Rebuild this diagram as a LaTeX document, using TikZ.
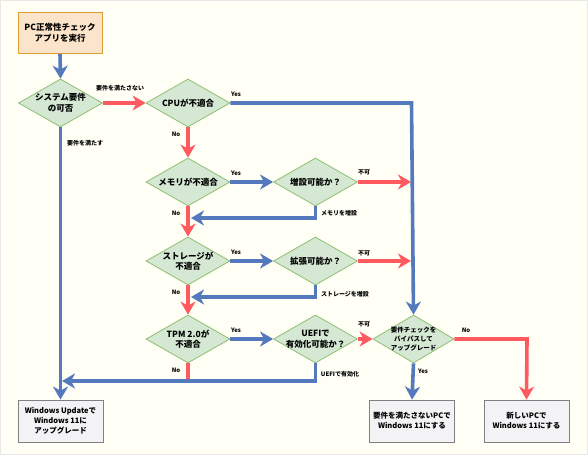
\documentclass[tikz,border=0pt]{standalone}
\usepackage{fontspec}
\setmainfont{Noto Sans CJK JP}
\usetikzlibrary{shapes.geometric,arrows.meta}
\definecolor{bgc}{HTML}{FFFFF6}
\definecolor{bluel}{HTML}{5479BD}
\definecolor{redl}{HTML}{FF5A5F}
\definecolor{dfill}{HTML}{D5E8D4}
\definecolor{dline}{HTML}{8DBE6F}
\definecolor{sfill}{HTML}{FCE4CA}
\definecolor{sline}{HTML}{DDA030}
\definecolor{bfill}{HTML}{F3F3F5}
\definecolor{bline}{HTML}{808080}
\tikzset{
  dia/.style={diamond,draw=dline,fill=dfill,line width=0.8pt,inner sep=0pt,minimum width=84pt,minimum height=48pt},
  dtext/.style={align=center,font=\fontsize{8.5}{10.5}\selectfont\bfseries,inner sep=0pt},
  stext/.style={align=center,font=\fontsize{6.5}{8.6}\selectfont\bfseries,inner sep=0pt},
  endbox/.style={rectangle,draw=bline,fill=bfill,line width=0.8pt,minimum width=85pt,minimum height=42pt,align=center,font=\fontsize{7.5}{10}\selectfont\bfseries,inner sep=0pt},
  startbox/.style={rectangle,draw=sline,fill=sfill,line width=0.8pt,minimum width=84pt,minimum height=41pt,align=center,font=\fontsize{8.5}{11}\selectfont\bfseries,inner sep=0pt},
  lab/.style={font=\fontsize{6}{7}\selectfont\bfseries,inner sep=0pt},
  bl/.style={draw=bluel,line width=3.6pt},
  rl/.style={draw=redl,line width=3.6pt},
  tip/.style={-{Stealth[length=13pt,width=15pt,inset=4pt]}},
}
\begin{document}
\begin{tikzpicture}[x=1pt,y=-1pt]
\path[fill=bgc,draw={rgb,255:red,232;green,232;blue,232},line width=1pt] (0.5,0.5) rectangle (587.5,454.5);
\useasboundingbox (0,0) rectangle (588,455);

% nodes
\node[startbox] (start) at (60,33) {PC正常性チェック\\アプリを実行};
\node[dia] (d1) at (60.5,103) {};
\node[dtext] (d1t) at (60.5,103) {システム要件\\の可否};
\node[dia] (cpu) at (188,103) {};
\node[dtext] (cput) at (188,103) {CPUが不適合};
\node[dia] (mem) at (188,182) {};
\node[dtext] (memt) at (188,182) {メモリが不適合};
\node[dia] (add) at (315.5,182) {};
\node[dtext] (addt) at (315.5,182) {増設可能か？};
\node[dia] (sto) at (188,261) {};
\node[dtext] (stot) at (188,261) {ストレージが\\不適合};
\node[dia] (ext) at (315.5,261) {};
\node[dtext] (extt) at (315.5,261) {拡張可能か？};
\node[dia] (tpm) at (188,339) {};
\node[dtext] (tpmt) at (188,339) {TPM 2.0が\\不適合};
\node[dia] (uefi) at (315.5,339) {};
\node[dtext] (uefit) at (315.5,339) {UEFIで\\有効化可能か？};
\node[dia,minimum width=81pt] (byp) at (413.5,339) {};
\node[stext] (bypt) at (413.5,339) {要件チェックを\\バイパスして\\アップグレード};
\node[endbox] (wu) at (60.5,421) {Windows Updateで\\Windows 11に\\アップグレード};
\node[endbox] (pc1) at (412,421) {要件を満たさないPCで\\Windows 11にする};
\node[endbox] (pc2) at (526.5,421) {新しいPCで\\Windows 11にする};

% coordinates
\coordinate (yv) at (411.5,103);
\coordinate (r1) at (411,182);
\coordinate (r2) at (411,261);
\coordinate (m1) at (315.5,218);
\coordinate (m1e) at (191,218);
\coordinate (s1) at (315.5,297);
\coordinate (s1e) at (191,297);
\coordinate (u1) at (315.5,381);
\coordinate (u1e) at (62,381);
\coordinate (t1) at (188,379);
\coordinate (n1) at (527,339);

% connectors
\draw[bl,tip] (start.south) -- (d1.north);
\draw[rl,tip] (d1.east) -- (cpu.west);
\draw[bl,tip] (cpu.east) -- (yv) -- (byp.north);
\draw[rl,tip] (cpu.south) -- (mem.north);
\draw[bl,tip] (mem.east) -- (add.west);
\draw[rl,tip] (add.east) -- (r1);
\draw[bl,tip] (add.south) -- (m1) -- (m1e);
\draw[rl,tip] (mem.south) -- (sto.north);
\draw[bl,tip] (sto.east) -- (ext.west);
\draw[rl,tip] (ext.east) -- (r2);
\draw[bl,tip] (ext.south) -- (s1) -- (s1e);
\draw[rl,tip] (sto.south) -- (tpm.north);
\draw[bl,tip] (tpm.east) -- (uefi.west);
\draw[rl,tip] (uefi.east) -- (byp.west);
\draw[rl] (tpm.south) -- (t1);
\draw[bl,tip] (uefi.south) -- (u1) -- (u1e);
\draw[bl,tip] (d1.south) -- (wu.north);
\draw[bl,tip] (byp.south) -- (pc1.north);
\draw[rl,tip] (byp.east) -- (n1) -- (pc2.north);

% labels
\node[lab] (l1) at (120,88) {要件を満たさない};
\node[lab] (l2) at (236,94) {Yes};
\node[lab] (l3) at (176,134) {No};
\node[lab] (l4) at (85,143) {要件を満たす};
\node[lab] (l5) at (236,173) {Yes};
\node[lab] (l6) at (364,172) {不可};
\node[lab] (l7) at (339,213) {メモリを増設};
\node[lab] (l8) at (176,213) {No};
\node[lab] (l9) at (236,252) {Yes};
\node[lab] (l10) at (364,253) {不可};
\node[lab] (l11) at (345,294) {ストレージを増設};
\node[lab] (l12) at (176,292) {No};
\node[lab] (l13) at (236,330) {Yes};
\node[lab] (l14) at (364,324) {不可};
\node[lab] (l15) at (340,374) {UEFIで有効化};
\node[lab] (l16) at (176,370) {No};
\node[lab] (l17) at (423,371) {Yes};
\node[lab] (l18) at (466,330) {No};
\end{tikzpicture}
\end{document}
